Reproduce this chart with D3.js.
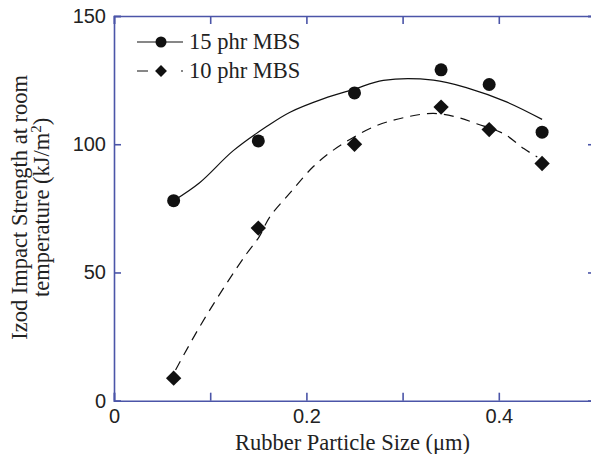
<!DOCTYPE html>
<html>
<head>
<meta charset="utf-8">
<script src="https://cdn.jsdelivr.net/npm/d3@7"></script>
<style>
  body { margin: 0; background: #fff; }
  svg { display: block; }
</style>
</head>
<body>
<div id="chart"></div>
<script>
var width = 591;
var height = 454;
let axis_color = "#4b55a8";
let serif = "Liberation Serif, Times New Roman, serif";
let sans = "Liberation Sans, Arial, sans-serif";

// measured points
let size_x = [0.062, 0.15, 0.25, 0.34, 0.39, 0.445];
let mbs15 = [78, 101.3, 120, 129, 123.3, 104.7];
let mbs10 = [8.8, 67.3, 100, 114.5, 105.7, 92.5];

// fitted curves
let fit15_x = [0.062, 0.089, 0.124, 0.159, 0.183, 0.218, 0.25, 0.28, 0.332, 0.367, 0.408, 0.445];
let fit15_y = [78, 85, 97.5, 107, 112.5, 117.8, 121.5, 124.9, 125, 122, 116.5, 109.7];
let fit10_x = [0.064, 0.089, 0.117, 0.138, 0.151, 0.162, 0.183, 0.207, 0.228, 0.27, 0.304, 0.332, 0.356, 0.377, 0.405, 0.426, 0.44];
let fit10_y = [12, 28.8, 45.7, 57.4, 64, 71.7, 81, 91.2, 97.7, 106.8, 110.6, 112, 110.6, 108, 104.1, 98.3, 95];

let x_ticks = [0, 0.1, 0.2, 0.3, 0.4, 0.5];
let y_ticks = [0, 50, 100, 150];
let legend_labels = ["15 phr MBS", "10 phr MBS"];

// plot box (window.top is reserved, so use other names)
var p_left = 114, p_right = 595, p_top = 16, p_bottom = 400.7;

var svg = d3.select("#chart").append("svg")
  .attr("width", width)
  .attr("height", height);

var x = d3.scaleLinear().domain([0, 0.5]).range([p_left, p_right]);
var y = d3.scaleLinear().domain([0, 150]).range([p_bottom, p_top]);

//-------------------- AXES --------------------
function style_axis(g) {
  g.select(".domain").attr("stroke", axis_color).attr("stroke-width", 1.6);
  g.selectAll(".tick line").attr("stroke", axis_color).attr("stroke-width", 1.6);
  g.selectAll(".tick text").attr("fill", "#222")
    .style("font-family", sans).style("font-size", "20px");
}

svg.append("g")
  .attr("transform", "translate(0," + p_bottom + ")")
  .call(d3.axisBottom(x).tickValues(x_ticks).tickSize(-8).tickPadding(8)
    .tickFormat(d => (Math.round(d * 10) % 2 == 0 && d < 0.5) ? d3.format("")(d) : ""))
  .call(style_axis);

svg.append("g")
  .attr("transform", "translate(0," + p_top + ")")
  .call(d3.axisTop(x).tickValues(x_ticks).tickSize(-8).tickFormat(""))
  .call(style_axis);

svg.append("g")
  .attr("transform", "translate(" + p_left + ",0)")
  .call(d3.axisLeft(y).tickValues(y_ticks).tickSize(-7).tickPadding(8))
  .call(style_axis);

svg.append("g")
  .attr("transform", "translate(" + p_right + ",0)")
  .call(d3.axisRight(y).tickValues(y_ticks).tickSize(-7).tickFormat(""))
  .call(style_axis);

//-------------------- TITLES --------------------
svg.append("text")
  .attr("x", (p_left + p_right) / 2 - 2)
  .attr("y", 450)
  .attr("text-anchor", "middle")
  .style("font-family", serif).style("font-size", "22.5px").attr("fill", "#222")
  .text("Rubber Particle Size (\u03bcm)");

var ytitle = svg.append("g")
  .attr("transform", "translate(0," + ((p_top + p_bottom) / 2 - 1) + ") rotate(-90)");
ytitle.append("text")
  .attr("x", 0).attr("y", 27)
  .attr("text-anchor", "middle")
  .style("font-family", serif).style("font-size", "22.5px").attr("fill", "#222")
  .text("Izod Impact Strength at room");
var l2 = ytitle.append("text")
  .attr("x", 0).attr("y", 49)
  .attr("text-anchor", "middle")
  .style("font-family", serif).style("font-size", "22.5px").attr("fill", "#222");
l2.append("tspan").text("temperature (kJ/m");
l2.append("tspan").attr("dy", -8).style("font-size", "15px").text("2");
l2.append("tspan").attr("dy", 8).text(")");

//-------------------- CURVES --------------------
var line = d3.line()
  .x(d => x(d[0]))
  .y(d => y(d[1]))
  .curve(d3.curveCatmullRom);

svg.append("path")
  .datum(d3.zip(fit15_x, fit15_y))
  .attr("d", line)
  .attr("fill", "none").attr("stroke", "#111").attr("stroke-width", 1.2);

svg.append("path")
  .datum(d3.zip(fit10_x, fit10_y))
  .attr("d", line)
  .attr("fill", "none").attr("stroke", "#111").attr("stroke-width", 1.2)
  .attr("stroke-dasharray", "10,7");

//-------------------- MARKERS --------------------
svg.append("g").selectAll("circle")
  .data(d3.zip(size_x, mbs15))
  .join("circle")
  .attr("cx", d => x(d[0]))
  .attr("cy", d => y(d[1]))
  .attr("r", 6.5)
  .attr("fill", "#111");

var diamond = d3.symbol().type(d3.symbolDiamond2).size(150);
svg.append("g").selectAll("path")
  .data(d3.zip(size_x, mbs10))
  .join("path")
  .attr("transform", d => "translate(" + x(d[0]) + "," + y(d[1]) + ")")
  .attr("d", diamond)
  .attr("fill", "#111");

//-------------------- LEGEND --------------------
var leg = svg.append("g");
leg.append("line")
  .attr("x1", 137).attr("x2", 183).attr("y1", 42).attr("y2", 42)
  .attr("stroke", "#111").attr("stroke-width", 1.2);
leg.append("circle").attr("cx", 161).attr("cy", 42).attr("r", 5.5).attr("fill", "#111");
leg.append("line")
  .attr("x1", 137).attr("x2", 185).attr("y1", 71).attr("y2", 71)
  .attr("stroke", "#111").attr("stroke-width", 1.2)
  .attr("stroke-dasharray", "11,33,2");
leg.append("path")
  .attr("transform", "translate(161,71)")
  .attr("d", d3.symbol().type(d3.symbolDiamond2).size(90))
  .attr("fill", "#111");
leg.selectAll("text")
  .data(legend_labels)
  .join("text")
  .attr("x", 189)
  .attr("y", (d, i) => 49 + i * 29)
  .style("font-family", serif).style("font-size", "22.5px").attr("fill", "#222")
  .text(d => d);
</script>
</body>
</html>
